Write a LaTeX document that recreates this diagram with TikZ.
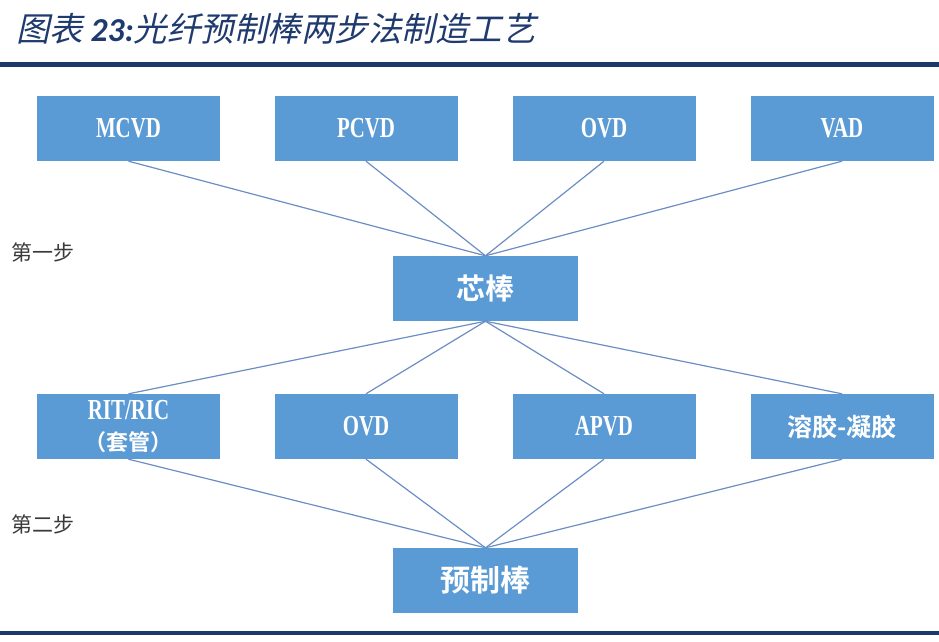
\documentclass[tikz,border=0pt]{standalone}
\usepackage{fontspec}
\usepackage{xcolor}
\usepackage{tikz}
\usetikzlibrary{positioning}

\newfontfamily\boxserif[FakeStretch=0.72]{Liberation Serif}
\newfontfamily\hanfont[BoldFont={Noto Sans CJK SC Bold}]{Noto Sans CJK SC}
\newfontfamily\titlehan[FakeSlant=0.22]{Noto Sans CJK SC}
\newfontfamily\titlenum{Carlito}

\definecolor{boxblue}{HTML}{5B9BD5}
\definecolor{linkblue}{HTML}{6A8EC3}
\definecolor{titleblue}{HTML}{1F3A6E}
\definecolor{rulenavy}{HTML}{1B3A6B}
\definecolor{stepgray}{HTML}{3A3A3A}

\newcommand{\boxlatin}{\boxserif\bfseries\fontsize{29}{31}\selectfont}
\newcommand{\boxhan}{\hanfont\bfseries\fontsize{29}{31}\selectfont}

\begin{document}
\begin{tikzpicture}[x=1pt, y=-1pt,
  stepbox/.style={fill=boxblue, minimum width=183pt, minimum height=65pt,
    inner sep=0pt, text=white, align=center},
  link/.style={draw=linkblue, line width=1.2pt},
  steptext/.style={anchor=west, inner sep=0pt, text=stepgray,
    font=\hanfont\fontsize{21}{21}\selectfont}
]
\useasboundingbox (0,0) rectangle (939,642);

% title and rules
\node[anchor=base west, inner sep=0pt, text=titleblue,
  font=\titlehan\fontsize{33.5}{34}\selectfont] (title) at (16,42)
  {图表 {\titlenum\bfseries\itshape 23:}光纤预制棒两步法制造工艺};
\fill[rulenavy] (0,62) rectangle (939,67);
\fill[rulenavy] (0,631) rectangle (939,635);

% step one
\foreach \n/\x/\t in {mcvd/128.5/MCVD, pcvd/366/PCVD, ovdA/604/OVD,
  vad/842/VAD} {
  \node[stepbox, font=\boxlatin] (\n) at (\x,128.5) {\t};
}
\node[stepbox, minimum width=185pt, font=\boxhan] (core) at (485.5,288.5)
  {芯棒};
\node[steptext] (stepone) at (11,252) {第一步};

% step two
\node[stepbox, font=\boxlatin] (rit) at (128.5,426.5)
  {RIT/RIC\\[0pt]{\hanfont\bfseries\fontsize{22}{22}\selectfont （套管）}};
\foreach \n/\x/\t in {ovdB/366/OVD, apvd/604/APVD} {
  \node[stepbox, font=\boxlatin] (\n) at (\x,426.5) {\t};
}
\node[stepbox, font=\hanfont\bfseries\fontsize{25}{25}\selectfont] (solgel)
  at (842,426.5) {溶胶-凝胶};
\node[stepbox, minimum width=185pt,
  font=\hanfont\bfseries\fontsize{30}{31}\selectfont] (preform)
  at (485.5,580.5) {预制棒};
\node[steptext] (steptwo) at (11,524) {第二步};

\foreach \n in {mcvd,pcvd,ovdA,vad}
  \draw[link] (\n.south) -- (core.north);
\foreach \n in {rit,ovdB,apvd,solgel} {
  \draw[link] (core.south) -- (\n.north);
  \draw[link] (\n.south) -- (preform.north);
}

\end{tikzpicture}
\end{document}
